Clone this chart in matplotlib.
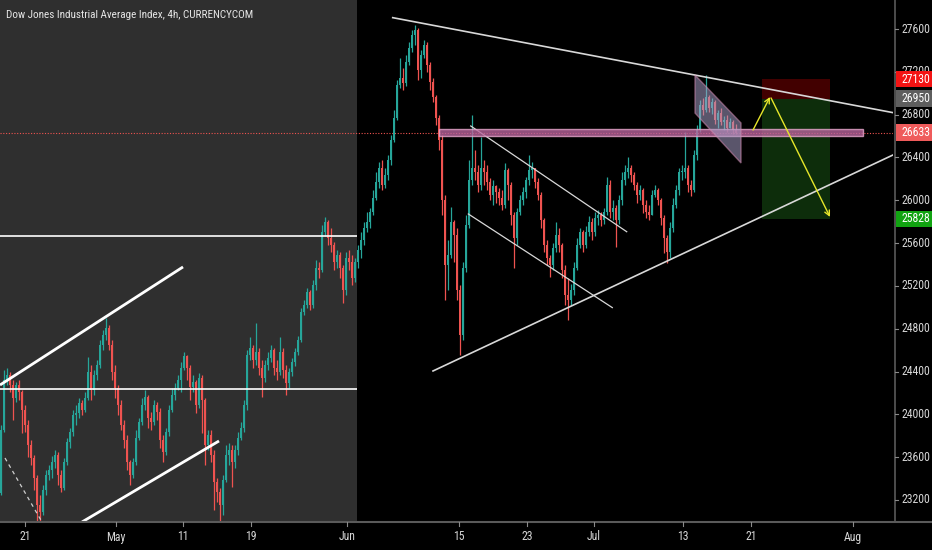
import matplotlib
matplotlib.use('Agg')
import matplotlib.pyplot as plt
from matplotlib.patches import Polygon, Rectangle
from matplotlib.lines import Line2D

# ---------------- data ----------------
title = "Dow Jones Industrial Average Index, 4h, CURRENCYCOM"

first_open = 23265
closes = [23854, 24321, 24368, 24274, 24153, 24274, 24209, 24041, 23901, 23714,
          23592, 23406, 23153, 23088, 23293, 23434, 23480, 23555, 23620, 23434,
          23312, 23555, 23742, 23835, 23994, 24013, 24106, 24041, 24153, 24396,
          24228, 24368, 24461, 24648, 24741, 24807, 24648, 24396, 24246, 24088,
          23901, 23760, 23555, 23434, 23555, 23779, 23929, 24088, 24162, 23966,
          23929, 24088, 24022, 23760, 23648, 23835, 24041, 24181, 24246, 24321,
          24433, 24545, 24433, 24256, 24302, 24088, 24340, 24134, 23714, 23807,
          23620, 23368, 23275, 23153, 23387, 23620, 23667, 23555, 23667, 23779,
          23873, 24088, 24555, 24620, 24508, 24583, 24433, 24340, 24461, 24527,
          24601, 24433, 24396, 24583, 24414, 24293, 24396, 24489, 24583, 24695,
          24956, 25022, 25143, 25022, 25209, 25367, 25349, 25704, 25797, 25648,
          25582, 25423, 25489, 25367, 25162, 25461, 25423, 25274, 25423, 25535,
          25629, 25741, 25797, 25890, 26021, 26171, 26302, 26143, 26236, 26376,
          26563, 26769, 27077, 27142, 27096, 27292, 27423, 27544, 27591, 27217,
          27357, 27451, 27264, 27105, 26965, 26769, 26563, 26003, 25395, 25489,
          25797, 25676, 25162, 24741, 25367, 25769, 26189, 26302, 26264, 26143,
          26302, 26264, 26171, 26049, 26133, 26077, 26021, 25956, 26283, 26143,
          25862, 25648, 25890, 26003, 26077, 26189, 26283, 26302, 26171, 26049,
          25816, 25582, 25461, 25395, 25554, 25676, 25582, 25349, 25115, 25068,
          25162, 25367, 25582, 25704, 25582, 25704, 25797, 25704, 25834, 25862,
          25816, 25890, 26143, 25890, 25928, 25816, 26003, 26189, 26264, 26302,
          26236, 26143, 26049, 26096, 25956, 25890, 25862, 26049, 26096, 26003,
          25834, 25648, 25517, 25741, 25956, 26096, 26264, 26264, 26302, 26143,
          26096, 26423, 26656, 26890, 26843, 26965, 26862, 26918, 26750, 26815,
          26731, 26750, 26675, 26731, 26656, 26633]
highs = [23901, 24414, 24433, 24396, 24321, 24302, 24321, 24228, 24088, 23947,
         23760, 23620, 23434, 23247, 23340, 23480, 23527, 23611, 23667, 23648,
         23480, 23592, 23779, 23873, 24041, 24088, 24153, 24134, 24209, 24536,
         24461, 24414, 24508, 24695, 24788, 24900, 24835, 24695, 24461, 24274,
         24134, 23947, 23807, 23574, 23592, 23854, 23966, 24153, 24228, 24181,
         24022, 24134, 24116, 24059, 23807, 23873, 24088, 24246, 24293, 24368,
         24489, 24583, 24555, 24461, 24368, 24321, 24386, 24368, 24153, 23854,
         23854, 23667, 23406, 23312, 23434, 23714, 23733, 23714, 23714, 23835,
         23929, 24134, 24601, 24723, 24648, 24853, 24620, 24508, 24508, 24583,
         24648, 24620, 24508, 24723, 24620, 24461, 24433, 24527, 24620, 24732,
         24994, 25068, 25181, 25162, 25255, 25442, 25423, 25769, 25844, 25816,
         25741, 25610, 25535, 25517, 25395, 25517, 25535, 25489, 25461, 25582,
         25704, 25797, 25890, 25928, 26096, 26264, 26358, 26376, 26302, 26423,
         26610, 26843, 27124, 27329, 27236, 27357, 27479, 27591, 27637, 27609,
         27404, 27497, 27479, 27292, 27142, 26984, 26797, 26610, 26049, 25629,
         25937, 25816, 25741, 25209, 25423, 25862, 26376, 26797, 26470, 26330,
         26591, 26376, 26330, 26208, 26189, 26143, 26115, 26096, 26348, 26302,
         26171, 25890, 25928, 26049, 26124, 26217, 26423, 26358, 26302, 26208,
         26077, 25834, 25629, 25489, 25601, 25797, 25741, 25601, 25395, 25274,
         25218, 25423, 25648, 25741, 25722, 25760, 25853, 25834, 25890, 25909,
         25890, 25928, 26217, 26189, 26003, 25956, 26049, 26264, 26330, 26404,
         26330, 26264, 26171, 26143, 26115, 26003, 25956, 26096, 26143, 26115,
         26021, 25862, 25676, 25797, 26021, 26143, 26302, 26330, 26638, 26330,
         26189, 26470, 26703, 26937, 26956, 27170, 26984, 26956, 26937, 26843,
         26862, 26787, 26797, 26769, 26750, 26713]
lows = [23247, 23835, 24274, 24209, 23947, 24116, 24134, 23826, 23835, 23602,
        23527, 23293, 22960, 22960, 23060, 23247, 23387, 23406, 23499, 23340,
        23275, 23293, 23527, 23686, 23798, 23901, 23966, 23994, 24022, 24134,
        24134, 24181, 24321, 24433, 24601, 24695, 24601, 24321, 24153, 23994,
        23854, 23686, 23480, 23340, 23406, 23527, 23760, 23901, 24041, 23873,
        23854, 23901, 23947, 23686, 23555, 23620, 23798, 24022, 24134, 24228,
        24209, 24414, 24321, 24134, 24209, 24013, 24059, 23826, 23527, 23667,
        23555, 23106, 23181, 22960, 23060, 23368, 23527, 23321, 23499, 23620,
        23760, 23835, 24041, 24508, 24433, 24461, 24368, 24162, 24302, 24414,
        24489, 24368, 24321, 24368, 24340, 24181, 24246, 24358, 24452, 24555,
        24676, 24928, 24994, 24975, 24994, 25162, 25274, 25330, 25666, 25582,
        25517, 25349, 25367, 25274, 25040, 25115, 25349, 25209, 25237, 25367,
        25461, 25582, 25704, 25741, 25862, 26003, 26115, 26096, 26115, 26189,
        26330, 26544, 26750, 27049, 27030, 27068, 27264, 27385, 27451, 27124,
        27142, 27329, 27198, 27030, 26918, 26703, 26470, 25862, 25068, 25162,
        25461, 25423, 25068, 24555, 24695, 25330, 25741, 26143, 26189, 26077,
        26096, 26143, 26096, 26003, 25956, 25975, 25956, 25909, 25928, 26003,
        25769, 25367, 25582, 25862, 25956, 26021, 26143, 26208, 26115, 26003,
        25741, 25517, 25395, 25283, 25349, 25517, 25517, 25274, 25022, 24882,
        25022, 25115, 25349, 25554, 25517, 25554, 25666, 25629, 25666, 25769,
        25760, 25778, 25862, 25834, 25816, 25564, 25778, 25956, 26143, 26208,
        26171, 26096, 25975, 26003, 25881, 25834, 25816, 25862, 26031, 25956,
        25769, 25507, 25414, 25461, 25704, 25928, 26049, 26189, 26208, 26077,
        26040, 26077, 26376, 26638, 26797, 26825, 26825, 26806, 26713, 26675,
        26703, 26656, 26638, 26675, 26619, 26619]

x_tick_labels = ['21', 'May', '11', '19', 'Jun', '15', '23', 'Jul', '13', '21', 'Aug']
x_tick_pos = [8.0, 38.3, 60.7, 83.3, 115.3, 152.7, 175.3, 197.7, 227.3, 250.0, 284.0]
price_ticks = [23200, 23600, 24000, 24400, 24800, 25200, 25600, 26000, 26400,
               26800, 27200, 27600]
marker_values = [27130, 26950, 26633, 25828]
marker_labels = ['27130', '26950', '26633', '25828']
marker_colors = ['#f41414', '#5e5e5e', '#ef5b5b', '#11a311']

last_price = 26633
stop_price = 27130
entry_price = 26950
target_price = 25828
zone_low, zone_high = 26600, 26670
level_a, level_b = 25666, 24237

# ---------------- figure ----------------
W, H = 932, 550
fam = ['Roboto Condensed', 'DejaVu Sans']
fw = 'normal'
fig = plt.figure(figsize=(W / 100, H / 100), dpi=100, facecolor='black')
ax_w = 893 / W
ax_b = (H - 522) / H
ax_h = 522 / H
ax = fig.add_axes([0, ax_b, ax_w, ax_h])
ax.set_facecolor('black')
ax.set_xlim(-1 / 3, 297.33)
ax.set_ylim(22994, 27871)
for s in ax.spines.values():
    s.set_visible(False)
ax.set_xticks([])
ax.set_yticks([])

# shaded history area
ax.axvspan(-1 / 3, 118.67, color='#2f2f2f', zorder=0, lw=0)

# candles
up_c = '#26a69a'
dn_c = '#ef5350'
opens = [first_open] + closes[:-1]
xs = list(range(len(closes)))
cols = [up_c if c >= o else dn_c for o, c in zip(opens, closes)]
ax.vlines(xs, lows, highs, colors=cols, lw=0.9, zorder=3)
bottoms = [min(o, c) for o, c in zip(opens, closes)]
heights = [max(abs(c - o), 12) for o, c in zip(opens, closes)]
ax.bar(xs, heights, bottom=bottoms, width=0.8, color=cols, lw=0, zorder=3)

# last price dotted line
ax.axhline(last_price, color='#ef5350', lw=0.8, ls=(0, (1, 1.5)), zorder=2)

# horizontal levels in history area
ax.hlines([level_a, level_b], -1 / 3, 118.67, color='white', lw=1.2, zorder=4)

# thick channel lines
ax.plot([-0.33, 60.67], [24274, 25377], color='white', lw=2.0, zorder=4,
        solid_capstyle='butt')
ax.plot([27.0, 72.67], [22994, 23751], color='white', lw=2.0, zorder=4,
        solid_capstyle='butt')
ax.plot([1.33, 13.67], [23592, 22994], color='#cfcfcf', lw=0.9, ls=(0, (3, 3)), zorder=4)

# triangle
ax.plot([130.57, 298.0], [27706, 26815], color='#d8d8d8', lw=1.2, zorder=4)
ax.plot([144.0, 298.0], [24405, 26432], color='#d8d8d8', lw=1.2, zorder=4)

# descending channel
ax.plot([156.57, 208.57], [26694, 25706], color='#d8d8d8', lw=0.9, zorder=4)
ax.plot([155.77, 203.77], [25872, 24997], color='#d8d8d8', lw=0.9, zorder=4)

# pink zone
ax.add_patch(Rectangle((146.0, zone_low), 287.33 - 146.0, zone_high - zone_low,
                       facecolor='#b8649c', edgecolor='#e6a6cc', lw=1.0,
                       alpha=0.8, zorder=5))

# flag parallelogram
ax.add_patch(Polygon([(231.33, 27170), (246.67, 26722), (246.67, 26348), (231.33, 26815)],
                     closed=True, facecolor='#a59cc4', edgecolor='#d08ab0', lw=1.0,
                     alpha=0.55, zorder=6))

# position tool
ax.add_patch(Rectangle((253.67, entry_price), 276.33 - 253.67, stop_price - entry_price,
                       facecolor='#420000', edgecolor='none', zorder=1))
ax.add_patch(Rectangle((253.67, target_price), 276.33 - 253.67, entry_price - target_price,
                       facecolor='#0d2d0b', edgecolor='none', zorder=1))

# arrows
ax.annotate('', xy=(256.33, 26965), xytext=(250.67, 26656),
            arrowprops=dict(arrowstyle='->', color='#e6e62a', lw=1.0,
                            mutation_scale=9, shrinkA=0, shrinkB=0), zorder=7)
ax.annotate('', xy=(276.33, 25844), xytext=(256.67, 26956),
            arrowprops=dict(arrowstyle='->', color='#e6e62a', lw=1.0,
                            mutation_scale=9, shrinkA=0, shrinkB=0), zorder=7)

# ---------------- price scale ----------------
axp = fig.add_axes([ax_w, ax_b, 1 - ax_w, ax_h])
axp.set_facecolor('black')
axp.set_xlim(0, W - 893)
axp.set_ylim(22994, 27871)
axp.set_xticks([])
axp.set_yticks([])
for s in axp.spines.values():
    s.set_visible(False)
axp.axvline(1.5, color='#5a5a5a', lw=1.2)
for v in price_ticks:
    axp.plot([1.5, 5], [v, v], color='#8a8a8a', lw=0.8)
    axp.text(9, v, str(v), color='#d6d6d6', fontsize=8.5, family=fam, weight=fw,
             va='center', ha='left')
for v, lab, c in zip(marker_values, marker_labels, marker_colors):
    axp.add_patch(Rectangle((2.5, v - 76), 40, 152, facecolor=c, edgecolor='none', zorder=5))
    axp.text(9, v, lab, color='white', fontsize=8.5, family=fam, weight=fw,
             va='center', ha='left', zorder=6)

# ---------------- time scale ----------------
fig.add_artist(Line2D([0, 1], [ax_b, ax_b], color='#5a5a5a', lw=1.5,
                      transform=fig.transFigure))
for p, lab in zip(x_tick_pos, x_tick_labels):
    xf = ax.transData.transform((p, 0))[0] / W
    fig.add_artist(Line2D([xf, xf], [ax_b, ax_b - 4 / H], color='#8a8a8a', lw=0.8,
                          transform=fig.transFigure))
    fig.text(xf, 1 - 537 / H, lab, color='#d6d6d6', fontsize=8.5, family=fam, weight=fw,
             ha='center', va='center')

# title
fig.text(6 / W, 1 - 15 / H, title, color='#e6e6e6', fontsize=8.0, family=fam, weight=fw,
         ha='left', va='center')

fig.savefig('out.png', dpi=100, facecolor='black')
